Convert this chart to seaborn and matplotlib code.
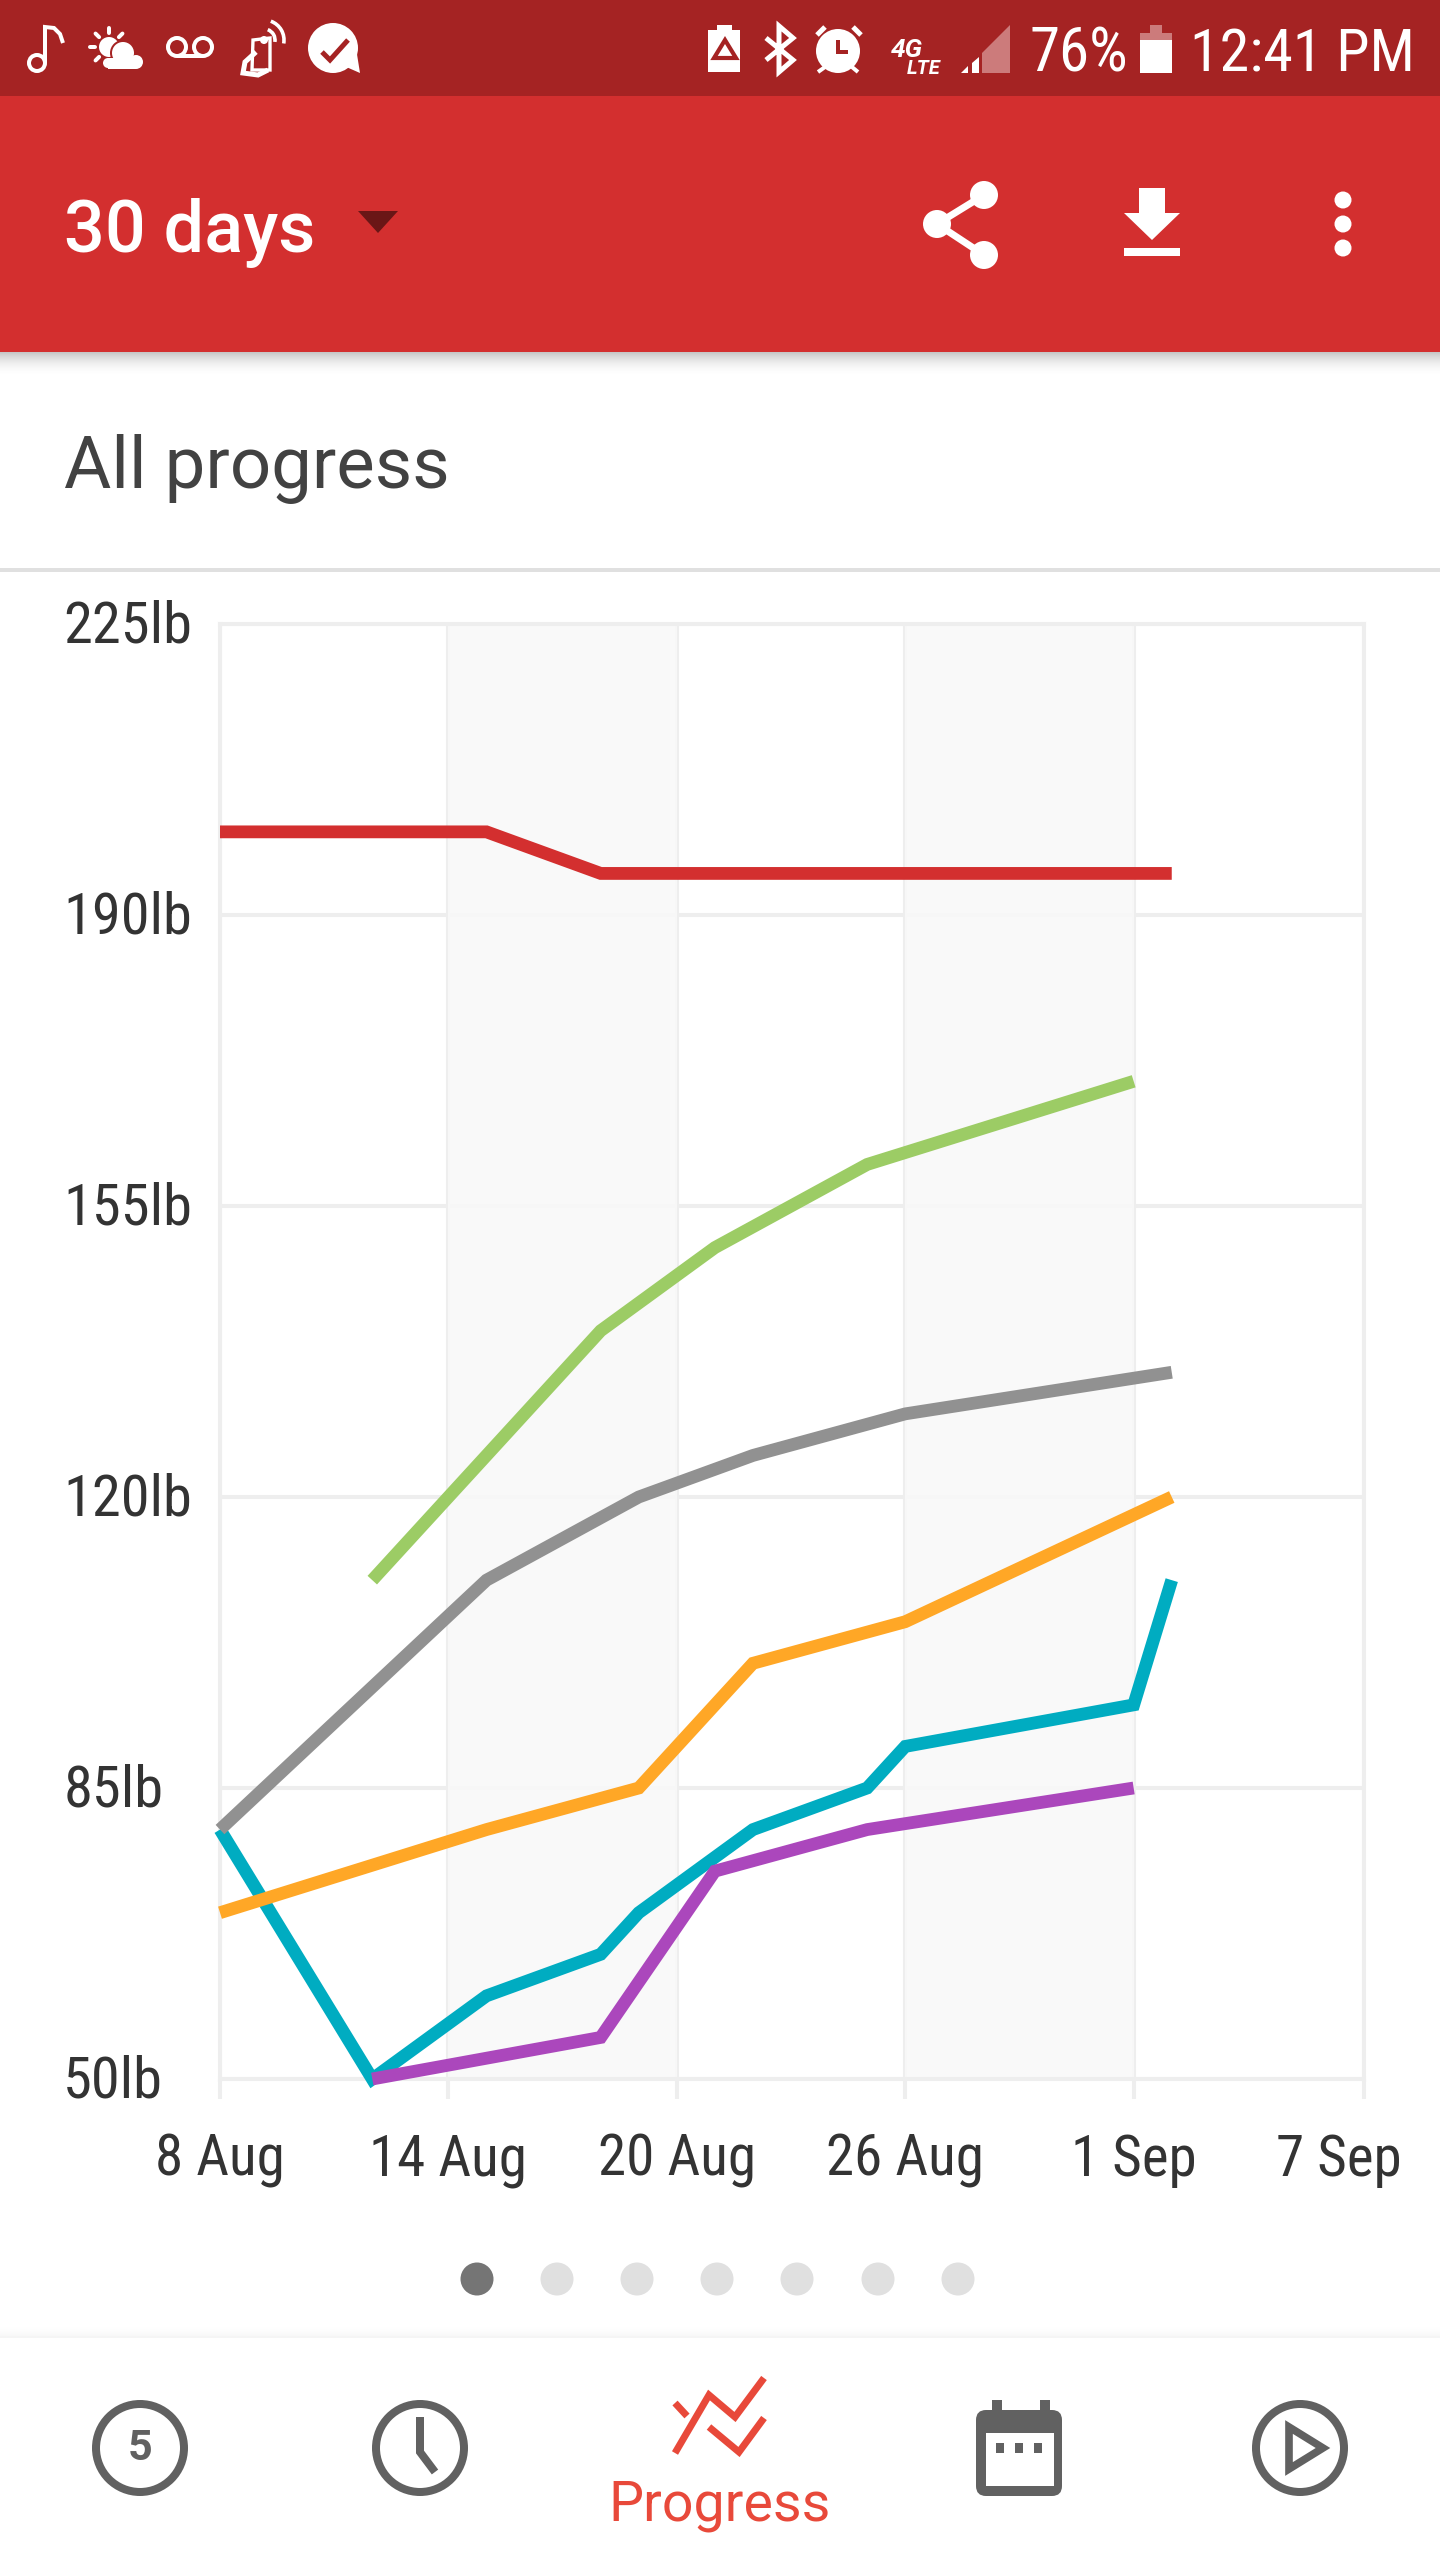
import numpy as np
import pandas as pd
import matplotlib
matplotlib.use("Agg")
import matplotlib.pyplot as plt
from matplotlib import font_manager as fm
from matplotlib.patches import Arc, Circle, Polygon, Rectangle, FancyBboxPatch
from matplotlib.transforms import ScaledTranslation
import seaborn as sns

# days counted from 8 Aug
red_days = [0, 7, 10, 25]
red_lb = [200, 200, 195, 195]
green_days = [4, 10, 13, 17, 24]
green_lb = [110, 140, 150, 160, 170]
gray_days = [0, 7, 11, 14, 18, 25]
gray_lb = [80, 110, 120, 125, 130, 135]
orange_days = [0, 7, 11, 14, 18, 25]
orange_lb = [70, 80, 85, 100, 105, 120]
teal_days = [0, 4, 7, 10, 11, 14, 17, 18, 24, 25]
teal_lb = [80, 50, 60, 65, 70, 80, 85, 90, 95, 110]
purple_days = [4, 10, 13, 17, 24]
purple_lb = [50, 55, 75, 80, 85]

tick_days = [0, 6, 12, 18, 24, 30.05]
tick_labels = ["8 Aug", "14 Aug", "20 Aug", "26 Aug", "1 Sep", "7 Sep"]
y_ticks = [50, 85, 120, 155, 190, 225]
y_labels = ["50lb", "85lb", "120lb", "155lb", "190lb", "225lb"]

W, H = 1440, 2560
DARK_RED = "#a52323"
RED = "#d32f2f"
ICON = "#616161"
ACCENT = "#e8493a"

sns.set_theme(style="whitegrid")
have = {f.name for f in fm.fontManager.ttflist}
narrow = next((n for n in ["Roboto Condensed", "Liberation Sans Narrow"] if n in have), "Roboto")
plt.rcParams["font.family"] = ["Roboto", "DejaVu Sans"]

frames = []
for name, days, lb in [("teal", teal_days, teal_lb), ("purple", purple_days, purple_lb),
                       ("orange", orange_days, orange_lb), ("gray", gray_days, gray_lb),
                       ("green", green_days, green_lb), ("red", red_days, red_lb)]:
    frames.append(pd.DataFrame({"day": days, "lb": lb, "series": name}))
df = pd.concat(frames, ignore_index=True)
palette = {"teal": "#00acc1", "purple": "#ab47bc", "orange": "#ffa726",
           "gray": "#919191", "green": "#9ccc65", "red": "#d32f2f"}

fig = plt.figure(figsize=(W / 100, H / 100), dpi=100, facecolor="white")

# screen chrome, drawn in pixel coordinates
ui = fig.add_axes([0, 0, 1, 1], zorder=0)
ui.set_xlim(0, W)
ui.set_ylim(H, 0)
ui.axis("off")

def rect(x0, y0, x1, y1, color, **kw):
    ui.add_patch(Rectangle((x0, y0), x1 - x0, y1 - y0, facecolor=color, edgecolor="none", **kw))

def ring(x, y, r, lw, color=ICON):
    ui.add_patch(Circle((x, y), r - lw / 2, facecolor="none", edgecolor=color, linewidth=lw * 0.72))

def disc(x, y, r, color="white"):
    ui.add_patch(Circle((x, y), r, facecolor=color, edgecolor="none"))

def stroke(xs, ys, lw, color="white", cap="butt"):
    ui.plot(xs, ys, color=color, linewidth=lw * 0.72, solid_capstyle=cap, solid_joinstyle="miter")

def label(x, y, s, px, color, **kw):
    ui.text(x, y, s, fontsize=px * 0.72, color=color, va="baseline", **kw)

rect(0, 0, W, 96, DARK_RED)
rect(0, 96, W, 352, RED)
for i in range(24):
    rect(0, 352 + i, W, 353 + i, "black", alpha=0.22 * (1 - i / 24) ** 2)
rect(0, 568, W, 572, "#e0e0e0")

# status bar icons, left group
ring(37, 63, 10, 4, "white")
stroke([45, 45, 54, 60, 63], [63, 27, 28, 34, 43], 4)
disc(109, 47, 10)
for ang in [90, 135, 180, 225, 45]:
    a = np.radians(ang)
    stroke([109 + 14 * np.cos(a), 109 + 19 * np.cos(a)], [47 - 14 * np.sin(a), 47 - 19 * np.sin(a)], 4, cap="round")
disc(123, 53, 13, DARK_RED)
disc(123, 53, 11)
disc(136, 62, 7)
disc(108, 63, 5)
rect(108, 58, 136, 69, "white")
ring(177, 47, 11, 4, "white")
ring(203, 47, 11, 4, "white")
rect(177, 54, 203, 58, "white")
ui.add_patch(Polygon([[253, 40], [270, 38], [270, 70], [252, 70]], facecolor="none", edgecolor="white", linewidth=2.4))
stroke([256, 245, 243, 258, 268], [52, 62, 73, 75, 70], 5)
disc(264, 40, 4)
for r in [11, 20]:
    ui.add_patch(Arc((264, 40), 2 * r, 2 * r, theta1=-70, theta2=10, edgecolor="white", linewidth=2.6))
disc(333, 48, 25)
ui.add_patch(Polygon([[344, 66], [360, 73], [356, 48]], facecolor="white", edgecolor="none"))
stroke([322, 330, 348], [52, 60, 40], 5, DARK_RED)

# status bar icons, right group
rect(708, 30, 740, 72, "white")
rect(717, 25, 732, 31, "white")
ui.add_patch(Polygon([[725, 40], [714, 58], [736, 58]], facecolor="none", edgecolor=DARK_RED, linewidth=3))
stroke([766, 793, 779, 779, 793, 766], [38, 60, 72, 26, 38, 60], 5)
disc(838, 51, 22)
stroke([838, 838, 848], [40, 52, 52], 4, DARK_RED)
stroke([817, 825], [35, 27], 5)
stroke([853, 861], [27, 35], 5)
stroke([818, 825], [72, 67], 4)
stroke([852, 858], [67, 72], 4)
ui.text(891, 57, "4G", fontsize=19, color="white", weight="bold", style="italic", family="Roboto")
ui.text(907, 74, "LTE", fontsize=14.5, color="white", weight="bold", style="italic", family="Roboto")
ui.add_patch(Polygon([[982, 53], [1010, 25], [1010, 73], [982, 73]], facecolor="#cc7b7b", edgecolor="none"))
ui.add_patch(Polygon([[961, 73], [968, 66], [968, 73]], facecolor="white", edgecolor="none"))
ui.add_patch(Polygon([[972, 63], [979, 57], [979, 73], [972, 73]], facecolor="white", edgecolor="none"))
label(1030, 72, "76%", 61, "white", fontfamily=narrow)
rect(1150, 25, 1162, 33, "#cc7b7b")
rect(1140, 33, 1172, 40, "#cc7b7b")
rect(1140, 40, 1172, 73, "white")
label(1190, 72, "12:41 PM", 60, "white", fontfamily=narrow)

# app bar
label(64, 252, "30 days", 72, "white", weight="medium")
ui.add_patch(Polygon([[358, 211], [398, 211], [378, 233]], facecolor="#6a1616", edgecolor="none"))
stroke([984, 937, 984], [195, 224, 255], 7)
for x, y in [(984, 195), (937, 224), (984, 255)]:
    disc(x, y, 14)
ui.add_patch(Polygon([[1139, 188], [1165, 188], [1165, 213], [1180, 213], [1152, 240], [1124, 213], [1139, 213]], facecolor="white", edgecolor="none"))
rect(1124, 248, 1180, 256, "white")
for y in [200, 224, 248]:
    disc(1343, y, 8.5)

label(64, 488, "All progress", 72.5, "#424242")

# pager dots
for i, x in enumerate([477, 557, 637, 717, 797, 878, 958]):
    disc(x, 2279, 16.5, "#757575" if i == 0 else "#e0e0e0")

# bottom navigation
for i in range(12):
    rect(0, 2324 + i, W, 2325 + i, "black", alpha=0.035 * (i / 12) ** 2)
rect(0, 2336, W, 2338, "#f5f5f5")
ring(140, 2448, 48, 8)
ui.text(140, 2449, "5", fontsize=31, color=ICON, weight="bold", ha="center", va="center")
ring(420, 2448, 48, 8)
stroke([420, 420, 435], [2417, 2452, 2472], 8, ICON)
stroke([675, 687], [2403, 2416], 7, ACCENT)
stroke([675, 709, 735, 764], [2453, 2395, 2417, 2378], 7, ACCENT)
stroke([709, 739, 764], [2427, 2452, 2418], 7, ACCENT)
label(720, 2520, "Progress", 55.5, ACCENT, ha="center")
ui.add_patch(FancyBboxPatch((982, 2416), 74, 74, boxstyle="round,pad=6,rounding_size=10", facecolor=ICON, edgecolor="none"))
rect(986, 2433, 1054, 2486, "white")
rect(992, 2400, 1002, 2420, ICON)
rect(1040, 2400, 1050, 2420, ICON)
for x in [1000, 1019, 1038]:
    rect(x - 4, 2443, x + 4, 2453, ICON)
ring(1300, 2448, 48, 8)
ui.add_patch(Polygon([[1289, 2427], [1323, 2448], [1289, 2469]], facecolor="none", edgecolor=ICON, linewidth=5.5, joinstyle="miter"))

# chart
ax = fig.add_axes([220 / W, 1 - 2079 / H, (1364 - 220) / W, (2079 - 624) / H], zorder=1)
ax.patch.set_alpha(0)
ax.set_axisbelow(True)
ax.grid(True, color="#eeeeee", linewidth=2.9)
for start, end in [(6, 12), (18, 24)]:
    ax.axvspan(start, end, color="#f9f9f9", alpha=0.85, linewidth=0, zorder=1)

sns.lineplot(data=df, x="day", y="lb", hue="series", hue_order=list(palette), palette=palette,
             estimator=None, sort=False, linewidth=9.2, legend=False, ax=ax,
             solid_capstyle="butt", solid_joinstyle="miter", clip_on=False, zorder=3)

ax.set_xlim(0, 30.05)
ax.set_ylim(50, 225)
ax.set_xticks(tick_days, tick_labels)
ax.set_yticks(y_ticks, y_labels)
ax.set_xlabel("")
ax.set_ylabel("")
ax.tick_params(axis="x", length=14.4, width=2.9, color="#eeeeee", pad=24.5, labelsize=41, labelcolor="#333333", bottom=True)
ax.tick_params(axis="y", length=0, pad=112.8, labelsize=42, labelcolor="#333333")
for t in ax.get_xticklabels() + ax.get_yticklabels():
    t.set_fontfamily(narrow)
for t in ax.get_yticklabels():
    t.set_ha("left")
    t.set_transform(t.get_transform() + ScaledTranslation(0, 3 / 100, fig.dpi_scale_trans))
last = ax.get_xticklabels()[-1]
last.set_transform(last.get_transform() + ScaledTranslation(-25 / 100, 0, fig.dpi_scale_trans))
for s in ax.spines.values():
    s.set_color("#eeeeee")
    s.set_linewidth(2.9)
    s.set_zorder(1.5)

fig.savefig("out.png", dpi=100)
